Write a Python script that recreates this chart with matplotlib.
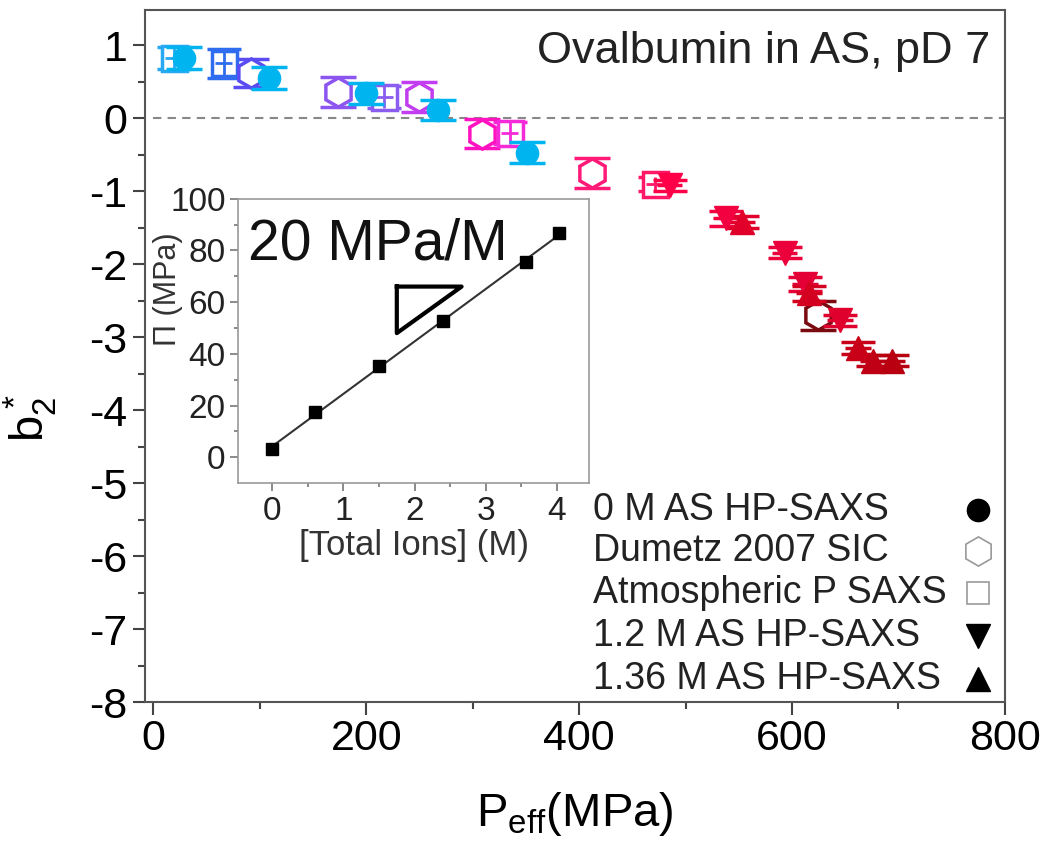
import matplotlib

matplotlib.use("Agg")
import matplotlib.pyplot as plt
import numpy as np

plt.rcParams.update({"font.family": "Liberation Sans", "font.size": 24,
                     "mathtext.default": "regular", "axes.unicode_minus": False})

# 0 M AS HP-SAXS (filled circles)
circ_p = [29, 109, 200, 267, 351]
circ_b2 = [0.82, 0.55, 0.34, 0.11, -0.47]
circ_err = [0.15, 0.15, 0.14, 0.14, 0.14]

# Dumetz 2007 SIC (open hexagons)
hex_p = [92, 173, 250, 309, 412, 624]
hex_b2 = [0.62, 0.36, 0.29, -0.21, -0.75, -2.70]
hex_err = [0.19, 0.20, 0.20, 0.20, 0.20, 0.20]

# Atmospheric P SAXS (open squares)
sq_p = [19, 66, 217, 335, 471]
sq_b2 = [0.82, 0.75, 0.29, -0.20, -0.90]
sq_err = [0.15, 0.2, 0.15, 0.15, 0.1]

# 1.2 M AS HP-SAXS (down triangles)
dn_p = [485, 538, 593, 612, 645]
dn_b2 = [-0.92, -1.37, -1.84, -2.27, -2.77]
dn_err = [0.08, 0.10, 0.08, 0.10, 0.08]

# 1.36 M AS HP-SAXS (up triangles)
up_p = [553, 616, 662, 676, 694]
up_b2 = [-1.42, -2.40, -3.15, -3.32, -3.32]
up_err = [0.08, 0.10, 0.08, 0.08, 0.08]

# inset: osmotic pressure vs total ions
ions = [0.0, 0.6, 1.5, 2.4, 3.57, 4.03]
pi_mpa = [3.1, 17.5, 35.4, 52.5, 75.5, 86.8]

circ_color = "#00b4f0"
hex_colors = ["#5a4cf2", "#8c55f0", "#c23cf0", "#ff12c0", "#ff1a78", "#7a0a10"]
sq_colors = ["#26a8f2", "#2f6cf0", "#8a5cf0", "#f52ad8", "#ff1868"]
dn_colors = ["#ff0048", "#f20040", "#ec003c", "#e40036", "#e0002e"]
up_colors = ["#e0002a", "#d40020", "#c80018", "#c00014", "#b80010"]

fig = plt.figure(figsize=(10.5, 8.49), dpi=100)
ax = fig.add_axes([0.138, 0.173, 0.819, 0.815])

ax.axhline(0, xmin=0.01, color="#888888", ls=(0, (4, 3)), lw=1.5, zorder=1)

for p, b, e, c in zip(sq_p, sq_b2, sq_err, sq_colors):
    ax.errorbar(p, b, yerr=e, fmt="s", ms=18, mfc="white", mec=c, mew=2.5,
                ecolor=c, elinewidth=2.5, capsize=12, capthick=2.5, zorder=3)
    # error lines show through the open square
    ax.errorbar(p, b, xerr=8, yerr=e, fmt="none", ecolor=c, elinewidth=2, zorder=3.5)
for p, b, e, c in zip(hex_p, hex_b2, hex_err, hex_colors):
    ax.errorbar(p, b, yerr=e, fmt="h", ms=21, mfc="white", mec=c, mew=2.5,
                ecolor=c, elinewidth=2.5, capsize=13, capthick=2.5, zorder=3)
for p, b, e in zip(circ_p, circ_b2, circ_err):
    ax.errorbar(p, b, yerr=e, fmt="o", ms=16, color=circ_color,
                elinewidth=2.5, capsize=13, capthick=2.5, zorder=4)
for p, b, e, c in zip(dn_p, dn_b2, dn_err, dn_colors):
    ax.errorbar(p, b, xerr=12, fmt="none", ecolor=c, elinewidth=2.5, zorder=4)
    ax.errorbar(p, b, yerr=e, fmt="v", ms=17, color=c,
                elinewidth=2.5, capsize=12, capthick=2.5, zorder=4)
for p, b, e, c in zip(up_p, up_b2, up_err, up_colors):
    ax.errorbar(p, b, xerr=12, fmt="none", ecolor=c, elinewidth=2.5, zorder=4)
    ax.errorbar(p, b, yerr=e, fmt="^", ms=17, color=c,
                elinewidth=2.5, capsize=12, capthick=2.5, zorder=4)

ax.set_xlim(-8, 800)
ax.set_ylim(-8, 1.48)
ax.set_xticks([0, 200, 400, 600, 800])
ax.set_xticks([100, 300, 500, 700], minor=True)
ax.set_yticks(range(-8, 2))
ax.set_yticks(np.arange(-7.5, 1.5, 1), minor=True)
ax.tick_params(labelsize=31, width=1.5, length=9, color="#444444", direction="out")
ax.tick_params(which="minor", width=1.5, length=5, color="#444444")
for s in ax.spines.values():
    s.set_color("#555555")
    s.set_linewidth(1.5)
ax.set_xlabel("P$_{eff}$(MPa)", fontsize=34, labelpad=22)
ax.set_ylabel("b$_2^*$", fontsize=34)
ax.yaxis.set_label_coords(-0.1, 0.41)

ax.text(0.983, 0.97, "Ovalbumin in AS, pD 7", transform=ax.transAxes,
        ha="right", va="top", fontsize=32.5, color="#222222")

# legend: text left-aligned, markers in a column on the right
labels = ["0 M AS HP-SAXS", "Dumetz 2007 SIC", "Atmospheric P SAXS",
          "1.2 M AS HP-SAXS", "1.36 M AS HP-SAXS"]
leg_marks = [dict(marker="o", ms=16, color="black"),
             dict(marker="h", ms=21, mfc="white", mec="#999999", mew=1.2),
             dict(marker="s", ms=16, mfc="white", mec="#999999", mew=1.2),
             dict(marker="v", ms=17, color="black"),
             dict(marker="^", ms=17, color="black")]
leg_y = [0.277, 0.218, 0.158, 0.095, 0.033]
for lab, mk, yy in zip(labels, leg_marks, leg_y):
    ax.text(0.521, yy, lab, transform=ax.transAxes, ha="left", va="center",
            fontsize=27, color="#222222")
    ax.plot([0.9686], [yy], transform=ax.transAxes, ls="none", clip_on=False, **mk)

# inset
ins = fig.add_axes([0.2267, 0.431, 0.3343, 0.335])
fit = np.polyfit(ions, pi_mpa, 1)
xx = np.array([ions[0], ions[-1]])
ins.plot(xx, np.polyval(fit, xx), color="#333333", lw=1.5, zorder=2)
ins.plot(ions, pi_mpa, "s", color="black", ms=9, zorder=3)
ins.plot([1.75, 2.66, 1.75, 1.75], [66, 66, 48, 66], color="black", lw=3, zorder=3)
ins.text(0.028, 0.935, "20 MPa/M", transform=ins.transAxes, ha="left", va="top",
         fontsize=41, color="#111111")
ins.set_xlim(-0.48, 4.45)
ins.set_ylim(-10, 100)
ins.set_xticks(range(5))
ins.set_xticks(np.arange(0.5, 4.5, 1), minor=True)
ins.set_yticks(range(0, 101, 20))
ins.set_yticks(range(10, 100, 20), minor=True)
ins.tick_params(labelsize=24, width=1.2, length=6, pad=3, color="#777777",
                labelcolor="#222222")
ins.tick_params(which="minor", width=1.2, length=3, color="#777777")
for s in ins.spines.values():
    s.set_color("#999999")
    s.set_linewidth(1.2)
ins.set_xlabel("[Total Ions] (M)", fontsize=25, labelpad=2, color="#333333")
ins.set_ylabel("Π (MPa)", fontsize=22, color="#333333")
ins.yaxis.set_label_coords(-0.158, 0.68)

fig.savefig("out.png", dpi=100)
